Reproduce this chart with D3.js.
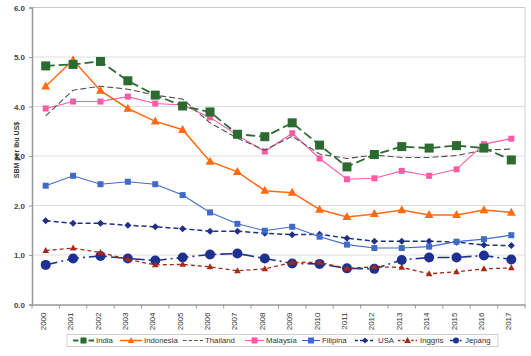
<!DOCTYPE html>
<html><head><meta charset="utf-8">
<script src="https://cdn.jsdelivr.net/npm/d3@7"></script>
<style>body{margin:0;background:#fff}svg{display:block;font-family:"Liberation Sans",Arial,sans-serif}</style>
</head><body><svg id="c" width="531" height="356"></svg>
<script>
const years = ["2000","2001","2002","2003","2004","2005","2006","2007","2008","2009","2010","2011","2012","2013","2014","2015","2016","2017"];
const india     = [4.82,4.85,4.91,4.52,4.23,4.01,3.89,3.44,3.39,3.67,3.22,2.78,3.03,3.19,3.16,3.21,3.16,2.92];
const indonesia = [4.41,4.94,4.32,3.96,3.70,3.53,2.89,2.68,2.30,2.26,1.92,1.77,1.83,1.91,1.81,1.81,1.91,1.86];
const thailand  = [3.81,4.33,4.41,4.35,4.23,4.15,3.67,3.36,3.12,3.40,3.04,2.95,3.02,2.97,2.97,3.01,3.12,3.14];
const malaysia  = [3.96,4.10,4.10,4.20,4.06,4.03,3.78,3.42,3.09,3.46,2.95,2.53,2.55,2.70,2.60,2.73,3.24,3.35];
const filipina  = [2.40,2.60,2.43,2.48,2.43,2.21,1.86,1.63,1.49,1.57,1.37,1.21,1.14,1.14,1.17,1.27,1.32,1.40];
const usa       = [1.69,1.64,1.64,1.60,1.57,1.53,1.48,1.48,1.44,1.41,1.42,1.34,1.28,1.28,1.28,1.26,1.20,1.19];
const inggris   = [1.09,1.14,1.05,0.91,0.80,0.81,0.76,0.68,0.72,0.85,0.85,0.73,0.76,0.75,0.62,0.66,0.72,0.74];
const jepang    = [0.80,0.93,0.98,0.93,0.89,0.95,1.01,1.03,0.93,0.83,0.82,0.73,0.72,0.90,0.95,0.95,0.99,0.91];
const yTicks = [0,1,2,3,4,5,6];
const yLabel = "SBM per ibu US$";

const series = [
  {name:"India", values:india, color:"#2b6b30", dash:"9,4", width:1.8, marker:"square", size:9},
  {name:"Indonesia", values:indonesia, color:"#ff6a13", dash:null, width:1.5, marker:"triangle", size:8},
  {name:"Thailand", values:thailand, color:"#4d524d", dash:"6,3", width:1.1, marker:null},
  {name:"Malaysia", values:malaysia, color:"#ff5aa5", dash:null, width:1.1, marker:"square", size:6},
  {name:"Filipina", values:filipina, color:"#3f6bc6", dash:null, width:1.1, marker:"square", size:6},
  {name:"USA", values:usa, color:"#1f2f88", dash:"5,3", width:1.5, marker:"diamond", size:7},
  {name:"Inggris", values:inggris, color:"#a52a18", dash:"4,3", width:1.3, marker:"triangle", size:6},
  {name:"Jepang", values:jepang, color:"#1f3190", dash:"12,4,2,4", width:1.6, marker:"circle", size:10}
];

const svg = d3.select("#c");
const L=32, R=525, T=7.5, B=304.5;
const x = d3.scalePoint().domain(years).range([L,R]).padding(0.5);
const y = d3.scaleLinear().domain([0,6]).range([B,T]);

svg.append("g").selectAll("line").data(yTicks.filter(d=>d>0)).join("line")
  .attr("x1",L).attr("x2",R).attr("y1",d=>y(d)).attr("y2",d=>y(d))
  .attr("stroke",d=>d===6?"#c8c8c8":"#dedede").attr("stroke-width",1);
svg.append("line").attr("x1",R).attr("x2",R).attr("y1",T).attr("y2",B).attr("stroke","#d0d0d0");

const ya = svg.append("g").attr("transform",`translate(${L},0)`)
  .call(d3.axisLeft(y).tickValues(yTicks).tickFormat(d3.format(".1f")).tickSize(3));
ya.select(".domain").attr("stroke","#999").attr("stroke-width",1.5);
ya.selectAll(".tick line").attr("stroke","#999");
ya.selectAll("text").attr("font-size",8).attr("font-weight","bold").attr("fill","#444").attr("dx",-1);

const step = x.step();
const xa = svg.append("g").attr("transform",`translate(0,${B})`)
  .call(d3.axisBottom(x).tickSize(0).tickSizeOuter(0));
xa.select(".domain").attr("stroke","#999").attr("stroke-width",1.5);
xa.selectAll(".tick text").attr("font-size",8).attr("fill","#333")
  .attr("transform","rotate(-90)").attr("text-anchor","end").attr("x",-8).attr("y",-3).attr("dy","0.32em");
svg.append("g").selectAll("line").data(d3.range(years.length+1)).join("line")
  .attr("x1",i=>L+i*step).attr("x2",i=>L+i*step).attr("y1",B).attr("y2",B+4)
  .attr("stroke","#999");

svg.append("text").attr("transform",`translate(19,${150}) rotate(-90)`)
  .attr("text-anchor","middle").attr("font-size",7).attr("font-weight","bold").attr("fill","#333").text(yLabel);

function drawMarker(g, type, cx, cy, s, color){
  if(type==="square") g.append("rect").attr("x",cx-s/2).attr("y",cy-s/2).attr("width",s).attr("height",s).attr("fill",color);
  else if(type==="circle") g.append("circle").attr("cx",cx).attr("cy",cy).attr("r",s/2).attr("fill",color);
  else if(type==="triangle") g.append("path").attr("d",`M${cx},${cy-s*0.6}L${cx+s*0.55},${cy+s*0.4}L${cx-s*0.55},${cy+s*0.4}Z`).attr("fill",color);
  else if(type==="diamond") g.append("path").attr("d",`M${cx},${cy-s/2}L${cx+s/2},${cy}L${cx},${cy+s/2}L${cx-s/2},${cy}Z`).attr("fill",color);
}

const line = d3.line().x((d,i)=>x(years[i])).y(d=>y(d));
[7,6,5,4,3,2,1,0].forEach(k=>{
  const s = series[k];
  const g = svg.append("g");
  g.append("path").attr("d",line(s.values)).attr("fill","none").attr("stroke",s.color)
    .attr("stroke-width",s.width).attr("stroke-dasharray",s.dash);
  if(s.marker) s.values.forEach((v,i)=>drawMarker(g,s.marker,x(years[i]),y(v),s.size,s.color));
});

// legend
const lg = svg.append("g");
lg.append("rect").attr("x",67).attr("y",334.5).attr("width",431).attr("height",12)
  .attr("fill","#fff").attr("stroke","#cfcfcf");
const legLine = [[73,94],[120,142],[183,203],[245,264],[302,320],[355,375],[398,417],[450,462]];
const legText = [96,144,205,266,322,378,420,465];
series.forEach((s,i)=>{
  const g = lg.append("g");
  const [a,b] = legLine[i], yy = 340.5;
  g.append("line").attr("x1",a).attr("x2",b).attr("y1",yy).attr("y2",yy)
    .attr("stroke",s.color).attr("stroke-width",s.width).attr("stroke-dasharray",s.dash ? s.dash.split(",").map(v=>Math.max(2,v*0.6)).join(",") : null);
  if(s.marker) drawMarker(g,s.marker,(a+b)/2,yy,Math.min(s.size,6),s.color);
  g.append("text").attr("x",legText[i]).attr("y",yy).attr("dy","0.35em").attr("font-size",7.8).attr("fill","#333").text(s.name);
});
</script></body></html>
